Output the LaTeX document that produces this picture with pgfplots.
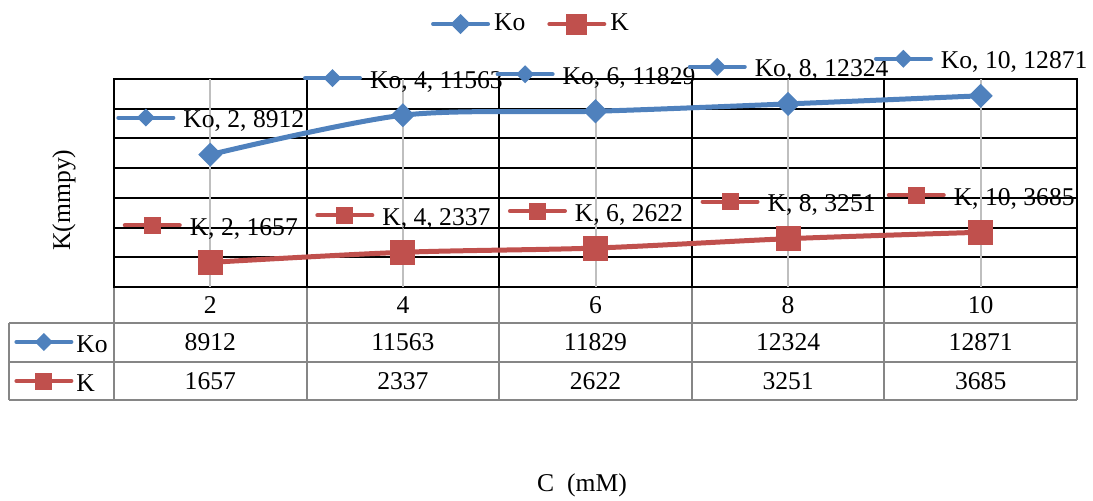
\documentclass[border=0pt]{standalone}
\usepackage{fontspec}
\setmainfont{Liberation Serif}
\usepackage{pgfplots}
\pgfplotsset{compat=1.18}
\definecolor{kob}{RGB}{79,129,189}
\definecolor{kr}{RGB}{192,80,77}
\definecolor{tg}{RGB}{134,134,134}
\definecolor{lg}{RGB}{191,191,191}
\newcommand\fs{\fontsize{12.8}{15}\selectfont}
\newsavebox\keyKo
\newsavebox\keyK
\pgfplotstableread{
x c y
0 2 8912
1 4 11563
2 6 11829
3 8 12324
4 10 12871
}\tKo
\pgfplotstableread{
x c y
0 2 1657
1 4 2337
2 6 2622
3 8 3251
4 10 3685
}\tK
\begin{document}
\fs
\sbox\keyKo{\tikz[baseline={(0,-5pt)}]{\draw[kob,line width=2pt,line cap=round] (0,0)--(27.5pt,0); \fill[kob] (13.75pt,4.5pt)--(18.25pt,0)--(13.75pt,-4.5pt)--(9.25pt,0)--cycle;}}%
\sbox\keyK{\tikz[baseline={(0,-5pt)}]{\draw[kr,line width=2pt,line cap=round] (0,0)--(27.5pt,0); \fill[kr] (9.5pt,-4.25pt) rectangle (18pt,4.25pt);}}%
\begin{tikzpicture}
\path[use as bounding box] (0,0) rectangle (546.5pt,250pt);
\begin{axis}[
  at={(57pt,106.5pt)}, anchor=south west,
  scale only axis, width=481.5pt, height=104pt,
  clip=false,
  xmin=-0.5, xmax=4.5, ymin=0, ymax=14000,
  xtick={-0.5,0.5,...,4.5}, ytick={0,2000,...,14000},
  scaled y ticks=false,
  xticklabels={}, yticklabels={},
  major tick length=0pt,
  xmajorgrids, ymajorgrids,
  grid style={black, line width=1pt},
  extra x ticks={0,1,2,3,4}, extra x tick labels={},
  extra x tick style={grid style={lg, line width=1pt}},
  axis line style={black, line width=1pt},
  legend style={at={(0.434,1.264)}, anchor=center, draw=none, fill=none,
    font=\fs, inner sep=0pt, /tikz/every even column/.append style={column sep=9pt}},
  legend columns=2,
  legend image code/.code={\draw[#1, line width=2pt, line cap=round, every mark/.append style={scale=0.85}, mark repeat=2, mark phase=2] plot coordinates {(0pt,0pt)(13.75pt,0pt)(27.5pt,0pt)};},
  every node near coord/.append style={anchor=base, yshift=13.5pt, font=\fs, inner sep=0pt, text=black},
]
\addplot[kob, line width=2.5pt, smooth, mark=square*, mark size=3pt,
  mark options={rotate=45, solid, fill=kob, draw=kob},
  point meta=explicit symbolic,
  visualization depends on={y \as \yv},
  nodes near coords={\usebox\keyKo\hspace{4pt}Ko, \pgfplotspointmeta, \pgfmathprintnumber[fixed,precision=0,1000 sep={},assume math mode=true]{\yv}}]
  table[x=x, y=y, meta=c] {\tKo};
\addlegendentry{Ko}
\addplot[kr, line width=2.5pt, smooth, mark=square*, mark size=5pt,
  mark options={solid, fill=kr, draw=kr},
  point meta=explicit symbolic,
  visualization depends on={y \as \yv},
  nodes near coords={\usebox\keyK\hspace{4pt}K, \pgfplotspointmeta, \pgfmathprintnumber[fixed,precision=0,1000 sep={},assume math mode=true]{\yv}}]
  table[x=x, y=y, meta=c] {\tK};
\addlegendentry{K}
\end{axis}
\begin{scope}[x=0.5pt, y=-0.5pt, shift={(0pt,250pt)}]
  \draw[tg, line width=1pt] (9,323)--(1077,323) (9,362)--(1077,362) (9,400)--(1077,400)
    (9,323)--(9,400);
  \foreach \i in {0,...,5} {\draw[tg, line width=1pt] ({114+192.6*\i},287.5)--({114+192.6*\i},400);}
  \foreach \c/\a/\b [count=\i from 0] in {2/8912/1657, 4/11563/2337, 6/11829/2622, 8/12324/3251, 10/12871/3685} {
    \node[font=\fs] at ({210.3+192.6*\i},305) {\c};
    \node[font=\fs] at ({210.3+192.6*\i},342) {\a};
    \node[font=\fs] at ({210.3+192.6*\i},381) {\b};
  }
  \node[anchor=base west, inner sep=0pt, font=\fs] at (14,352) {\usebox\keyKo\hspace{1.5pt}Ko};
  \node[anchor=base west, inner sep=0pt, font=\fs] at (14,391) {\usebox\keyK\hspace{1.5pt}K};
  \node[font=\fs] at (582,485) {C\ \ (mM)};
  \node[font=\fs, rotate=90] at (64,200) {K(mmpy)};
\end{scope}
\end{tikzpicture}
\end{document}
